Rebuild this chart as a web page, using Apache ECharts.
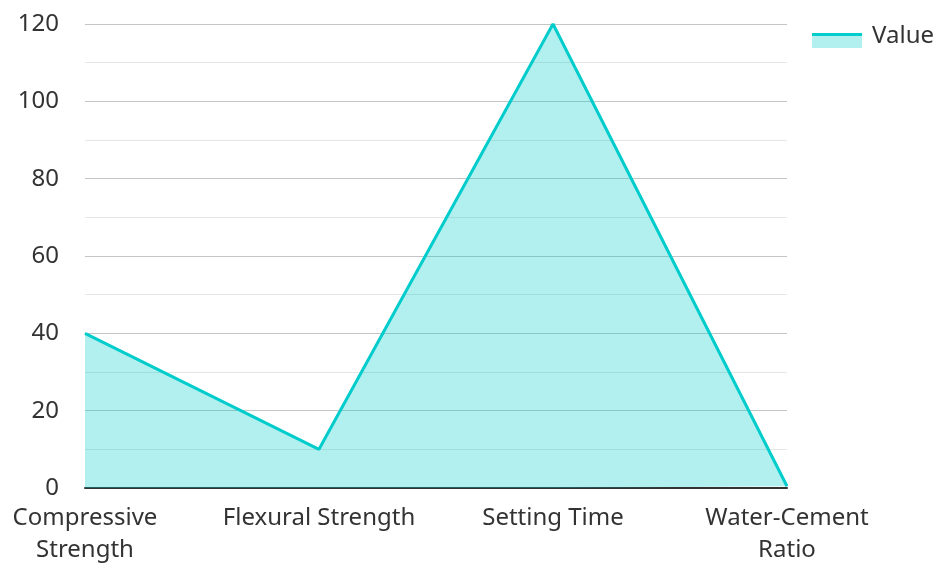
<!DOCTYPE html>
<html><head><meta charset="utf-8">
<script src="https://cdn.jsdelivr.net/npm/echarts@6/dist/echarts.min.js"></script>
<style>html,body{margin:0;padding:0;background:#fff}#c{width:936px;height:566px}</style>
</head><body><div id="c"></div>
<script>
const categories = ['Compressive\nStrength', 'Flexural Strength', 'Setting Time', 'Water-Cement\nRatio'];
const values = [40, 10, 120, 0.45];
const seriesName = 'Value';
const chart = echarts.init(document.getElementById('c'), null, {renderer: 'canvas'});
chart.setOption({
  animation: false,
  textStyle: {fontFamily: 'Noto Sans'},
  legend: {
    data: [{name: seriesName, icon: 'rect'}], right: -3, top: 17, itemWidth: 50, itemHeight: 29, itemGap: 10,
    itemStyle: {
      color: {type: 'linear', x: 0, y: 0, x2: 0, y2: 1, colorStops: [
        {offset: 0, color: 'rgba(255,255,255,0)'}, {offset: 0.363, color: 'rgba(255,255,255,0)'},
        {offset: 0.363, color: '#00cccc'}, {offset: 0.48, color: '#00cccc'},
        {offset: 0.48, color: '#b2efef'}, {offset: 0.897, color: '#b2efef'},
        {offset: 0.897, color: 'rgba(255,255,255,0)'}, {offset: 1, color: 'rgba(255,255,255,0)'}]}
    },
    textStyle: {fontSize: 24, color: '#333', fontFamily: 'Noto Sans', padding: [0, 0, 0, 5]}
  },
  grid: {left: 85, right: 149, top: 24, bottom: 76},
  xAxis: {
    type: 'category', data: categories, boundaryGap: false,
    axisLine: {lineStyle: {color: '#333', width: 2}},
    axisTick: {show: false},
    axisLabel: {interval: 0, fontSize: 24, color: '#333', margin: 14, lineHeight: 32, fontFamily: 'Noto Sans'}
  },
  yAxis: {
    type: 'value', min: 0, max: 120, interval: 20,
    axisLine: {show: false}, axisTick: {show: false},
    axisLabel: {fontSize: 24, color: '#333', margin: 26, fontFamily: 'Noto Sans'},
    splitLine: {lineStyle: {color: '#c4c4c4', width: 1}},
    minorTick: {show: false, splitNumber: 2},
    minorSplitLine: {show: true, lineStyle: {color: '#e6e6e6', width: 1}}
  },
  series: [{
    name: seriesName, type: 'line', data: values, symbol: 'none',
    lineStyle: {color: '#00cccc', width: 3},
    itemStyle: {color: '#00cccc'},
    areaStyle: {color: '#00cccc', opacity: 0.3}
  }]
});
</script></body></html>
